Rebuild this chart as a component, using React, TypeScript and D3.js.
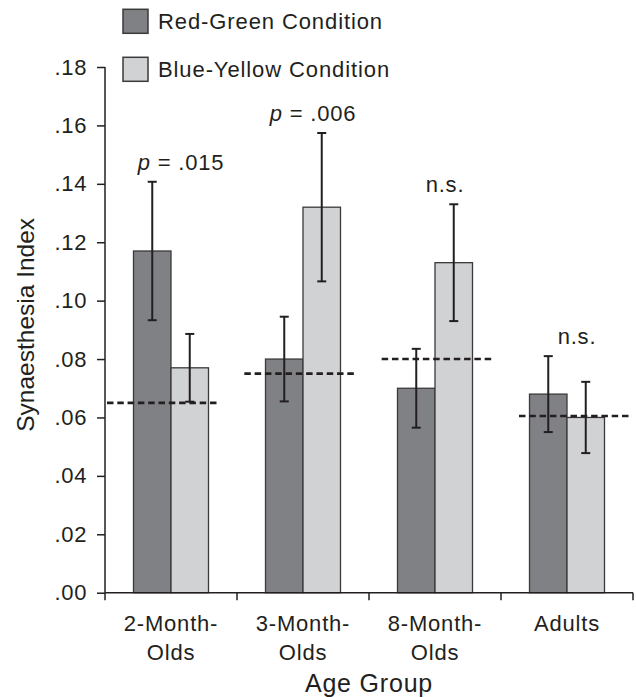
import React, { useRef, useEffect } from "react";
import * as d3 from "d3";

const groups = ["2-Month-Olds", "3-Month-Olds", "8-Month-Olds", "Adults"];
const groupLines = [["2-Month-", "Olds"], ["3-Month-", "Olds"], ["8-Month-", "Olds"], ["Adults"]];
const conditions = ["Red-Green Condition", "Blue-Yellow Condition"];

const redGreenMean = [0.117, 0.08, 0.07, 0.068];
const redGreenErr = [0.0237, 0.0145, 0.0135, 0.013];
const blueYellowMean = [0.077, 0.132, 0.113, 0.06];
const blueYellowErr = [0.0116, 0.0254, 0.02, 0.0122];
const chanceLevel = [0.065, 0.075, 0.08, 0.0605];
const annotations = ["p = .015", "p = .006", "n.s.", "n.s."];
const yTicks = [0, 0.02, 0.04, 0.06, 0.08, 0.1, 0.12, 0.14, 0.16, 0.18];

const colors = ["#808184", "#d1d2d4"];
const ink = "#231f20";
const font = "'Liberation Sans', Arial, Helvetica, sans-serif";

const width = 636;
const height = 697;
const margin = { top: 67, right: 3, bottom: 104.3, left: 105 };

const App: React.FC = () => {
  const svgRef = useRef<SVGSVGElement | null>(null);

  useEffect(() => {
    if (!svgRef.current) return;
    const svg = d3.select(svgRef.current);
    svg.selectAll("*").remove();

    const innerWidth = width - margin.left - margin.right;
    const innerHeight = height - margin.top - margin.bottom;

    const x0 = d3.scaleBand().domain(groups).range([0, innerWidth]).padding(0);
    const x1 = d3
      .scaleBand()
      .domain(conditions)
      .range([0, x0.bandwidth()])
      .paddingInner(0)
      .paddingOuter(0.76);
    const y = d3.scaleLinear().domain([0, 0.18]).range([innerHeight, 0]);
    // chance lines sit a little offset from the bar groups in the original
    const xc = d3.scalePoint().domain(groups).range([58.5, 470.5]);
    const chanceHalf = 56.5;

    const g = svg
      .append("g")
      .attr("transform", `translate(${margin.left},${margin.top})`)
      .style("font-family", font);

    const rows = groups.map((grp, i) => ({
      grp,
      i,
      vals: [
        { cond: conditions[0], mean: redGreenMean[i], err: redGreenErr[i] },
        { cond: conditions[1], mean: blueYellowMean[i], err: blueYellowErr[i] },
      ],
    }));

    // bars
    const grpSel = g
      .selectAll("g.grp")
      .data(rows)
      .enter()
      .append("g")
      .attr("class", "grp")
      .attr("transform", (d) => `translate(${x0(d.grp)},0)`);

    grpSel
      .selectAll("rect")
      .data((d) => d.vals)
      .enter()
      .append("rect")
      .attr("x", (d) => x1(d.cond) as number)
      .attr("y", (d) => y(d.mean))
      .attr("width", x1.bandwidth())
      .attr("height", (d) => innerHeight - y(d.mean))
      .attr("fill", (d, i) => colors[i])
      .attr("stroke", "#3a3a3a")
      .attr("stroke-width", 1.3);

    // chance level dashed lines
    g.selectAll("line.chance")
      .data(groups)
      .enter()
      .append("line")
      .attr("class", "chance")
      .attr("x1", (d) => (xc(d) as number) - chanceHalf)
      .attr("x2", (d) => (xc(d) as number) + chanceHalf)
      .attr("y1", (d, i) => y(chanceLevel[i]))
      .attr("y2", (d, i) => y(chanceLevel[i]))
      .attr("stroke", ink)
      .attr("stroke-width", 2.6)
      .attr("stroke-dasharray", "6.5 3.8");

    // error bars
    const errSel = grpSel
      .selectAll("g.err")
      .data((d) => d.vals)
      .enter()
      .append("g")
      .attr("class", "err")
      .attr("stroke", ink)
      .attr("stroke-width", 2);
    const cx = (d: { cond: string }) => (x1(d.cond) as number) + x1.bandwidth() / 2;
    errSel
      .append("line")
      .attr("x1", cx)
      .attr("x2", cx)
      .attr("y1", (d) => y(d.mean + d.err))
      .attr("y2", (d) => y(d.mean - d.err));
    [1, -1].forEach((s) => {
      errSel
        .append("line")
        .attr("x1", (d) => cx(d) - 4.5)
        .attr("x2", (d) => cx(d) + 4.5)
        .attr("y1", (d) => y(d.mean + s * d.err))
        .attr("y2", (d) => y(d.mean + s * d.err));
    });

    // significance labels
    grpSel
      .append("text")
      .attr("x", x0.bandwidth() / 2 + 10)
      .attr("y", (d) => d3.min(d.vals, (v) => y(v.mean + v.err)) as number - 12)
      .attr("text-anchor", "middle")
      .attr("fill", ink)
      .style("font-size", "22px")
      .style("letter-spacing", "0.8px")
      .each(function (d) {
        const t = d3.select(this);
        const label = annotations[d.i];
        if (label.startsWith("p")) {
          t.append("tspan").style("font-style", "italic").text("p");
          t.append("tspan").text(label.slice(1));
        } else {
          t.text(label);
        }
      });

    // y axis
    const yAxisG = g
      .append("g")
      .call(
        d3
          .axisLeft(y)
          .tickValues(yTicks)
          .tickSize(8)
          .tickPadding(10)
          .tickFormat((d) => d3.format(".2f")(Number(d)).replace(/^0/, ""))
      );
    yAxisG.select(".domain").attr("stroke", ink).attr("stroke-width", 1.5).attr("d", `M0,0V${innerHeight}`);
    yAxisG.selectAll(".tick line").attr("stroke", ink).attr("stroke-width", 1.5);
    yAxisG
      .selectAll(".tick text")
      .attr("fill", ink)
      .style("font-family", font)
      .style("font-size", "22px")
      .style("letter-spacing", "0.6px");

    // x axis: baseline with ticks at group boundaries
    g.append("line")
      .attr("x1", 0)
      .attr("x2", innerWidth)
      .attr("y1", innerHeight)
      .attr("y2", innerHeight)
      .attr("stroke", ink)
      .attr("stroke-width", 1.5);
    const bounds = [...groups.map((d) => x0(d) as number), innerWidth];
    g.selectAll("line.xtick")
      .data(bounds)
      .enter()
      .append("line")
      .attr("class", "xtick")
      .attr("x1", (d) => d)
      .attr("x2", (d) => d)
      .attr("y1", innerHeight)
      .attr("y2", innerHeight + 7.5)
      .attr("stroke", ink)
      .attr("stroke-width", 1.5);

    groups.forEach((grp, i) => {
      const t = g
        .append("text")
        .attr("x", (x0(grp) as number) + x0.bandwidth() / 2)
        .attr("y", innerHeight + 38.5)
        .attr("text-anchor", "middle")
        .attr("fill", ink)
        .style("font-size", "22px")
        .style("letter-spacing", "0.8px");
      groupLines[i].forEach((line, j) => {
        t.append("tspan")
          .attr("x", (x0(grp) as number) + x0.bandwidth() / 2)
          .attr("dy", j === 0 ? 0 : 29)
          .text(line);
      });
    });

    // axis titles
    g.append("text")
      .attr("x", innerWidth / 2)
      .attr("y", innerHeight + 99)
      .attr("text-anchor", "middle")
      .attr("fill", ink)
      .style("font-size", "25px")
      .style("letter-spacing", "0.8px")
      .text("Age Group");

    g.append("text")
      .attr("transform", "rotate(-90)")
      .attr("x", -(innerHeight / 2) + 5)
      .attr("y", -margin.left + 34)
      .attr("text-anchor", "middle")
      .attr("fill", ink)
      .style("font-size", "24.5px")
      .text("Synaesthesia Index");

    // legend
    const legend = svg
      .append("g")
      .attr("transform", "translate(123,9.3)")
      .style("font-family", font);
    const items = legend
      .selectAll("g")
      .data(conditions)
      .enter()
      .append("g")
      .attr("transform", (d, i) => `translate(0,${i * 48})`);
    items
      .append("rect")
      .attr("width", 25)
      .attr("height", 24)
      .attr("fill", (d, i) => colors[i])
      .attr("stroke", "#3a3a3a")
      .attr("stroke-width", 1.5);
    items
      .append("text")
      .attr("x", 35)
      .attr("y", 20)
      .attr("fill", ink)
      .style("font-size", "22px")
      .style("letter-spacing", "0.9px")
      .text((d) => d);
  }, []);

  return (
    <svg
      ref={svgRef}
      width={width}
      height={height}
      style={{ position: "absolute", left: 0, top: 0, background: "#fff" }}
    />
  );
};

export default App;
